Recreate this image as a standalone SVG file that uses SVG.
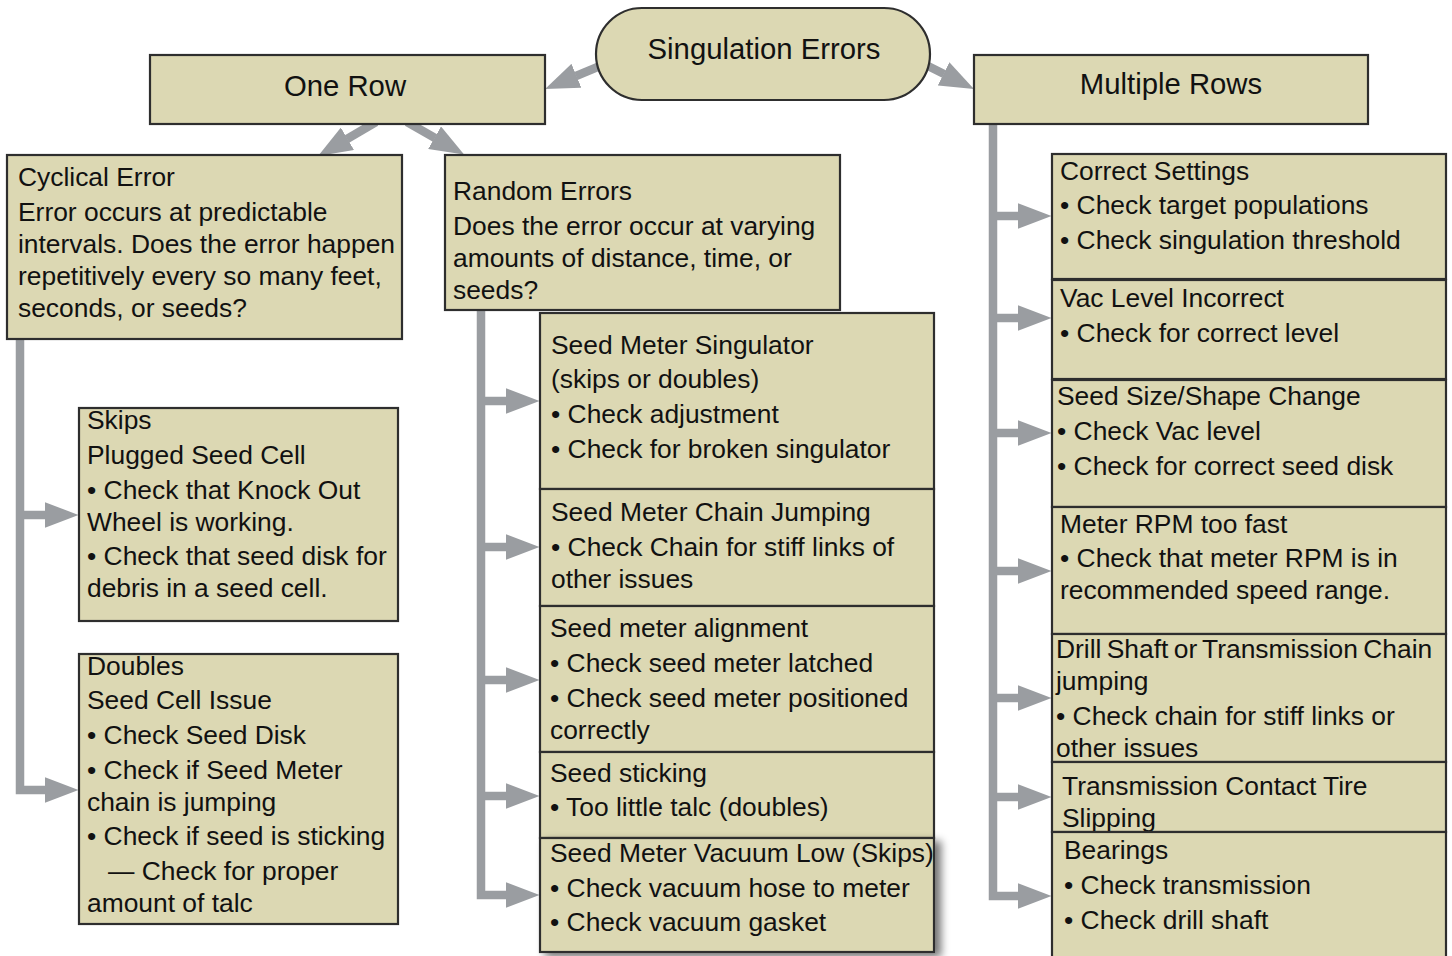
<svg xmlns="http://www.w3.org/2000/svg" width="1452" height="956" viewBox="0 0 1452 956">
<style>
  .box { fill: #dcd8b3; stroke: #2e2e2e; stroke-width: 2.2; }
  .t { font-family: "Liberation Sans", Arial, sans-serif; font-size: 26.4px; fill: #111; }
  .h { font-family: "Liberation Sans", Arial, sans-serif; font-size: 29.3px; fill: #111; text-anchor: middle; }
  .c { fill: none; stroke: #9a9da1; stroke-width: 8.5; stroke-linejoin: miter; }
</style>
<defs>
  <marker id="ah" markerUnits="userSpaceOnUse" markerWidth="34" markerHeight="26" viewBox="0 0 34 26" refX="0.5" refY="13" orient="auto">
    <path d="M0,0 L34,13 L0,26 z" fill="#9a9da1"/>
  </marker>
  <filter id="sh" x="-10%" y="-10%" width="130%" height="130%">
    <feGaussianBlur in="SourceAlpha" stdDeviation="4"/>
    <feOffset dx="6" dy="4" result="b"/>
    <feComponentTransfer><feFuncA type="linear" slope="0.55"/></feComponentTransfer>
    <feMerge><feMergeNode/><feMergeNode in="SourceGraphic"/></feMerge>
  </filter>
</defs>

<g id="connectors">
  <line class="c" x1="600" y1="66" x2="576" y2="76" marker-end="url(#ah)"/>
  <line class="c" x1="926" y1="65" x2="944" y2="74" marker-end="url(#ah)"/>
  <line class="c" x1="376" y1="122" x2="347" y2="139" marker-end="url(#ah)"/>
  <line class="c" x1="407" y1="122" x2="435" y2="138" marker-end="url(#ah)"/>
  <path class="c" d="M20,339 V790 H45" marker-end="url(#ah)"/>
  <path class="c" d="M20,515 H45" marker-end="url(#ah)"/>
  <path class="c" d="M481,310 V895 H506" marker-end="url(#ah)"/>
  <path class="c" d="M481,401 H506" marker-end="url(#ah)"/>
  <path class="c" d="M481,547 H506" marker-end="url(#ah)"/>
  <path class="c" d="M481,680 H506" marker-end="url(#ah)"/>
  <path class="c" d="M481,796 H506" marker-end="url(#ah)"/>
  <path class="c" d="M993,124 V896 H1018" marker-end="url(#ah)"/>
  <path class="c" d="M993,216 H1018" marker-end="url(#ah)"/>
  <path class="c" d="M993,318 H1018" marker-end="url(#ah)"/>
  <path class="c" d="M993,433 H1018" marker-end="url(#ah)"/>
  <path class="c" d="M993,571 H1018" marker-end="url(#ah)"/>
  <path class="c" d="M993,698 H1018" marker-end="url(#ah)"/>
  <path class="c" d="M993,797 H1018" marker-end="url(#ah)"/>
</g>

<g id="singulation-errors">
  <rect class="box" x="596" y="8" width="334" height="92" rx="46" ry="46"/>
  <text class="h" x="764" y="59">Singulation Errors</text>
</g>
<g id="one-row">
  <rect class="box" x="150" y="55" width="395" height="69"/>
  <text class="h" x="345" y="96">One Row</text>
</g>
<g id="multiple-rows">
  <rect class="box" x="974" y="55" width="394" height="69"/>
  <text class="h" x="1171" y="94">Multiple Rows</text>
</g>

<g id="cyclical-error">
  <rect class="box" x="7" y="155" width="395" height="184"/>
  <text class="t"><tspan x="18" y="186">Cyclical Error</tspan><tspan x="18" y="221">Error occurs at predictable</tspan><tspan x="18" y="253">intervals. Does the error happen</tspan><tspan x="18" y="285">repetitively every so many feet,</tspan><tspan x="18" y="317">seconds, or seeds?</tspan></text>
</g>
<g id="random-errors">
  <rect class="box" x="445" y="155" width="395" height="155"/>
  <text class="t"><tspan x="453" y="200">Random Errors</tspan><tspan x="453" y="235">Does the error occur at varying</tspan><tspan x="453" y="267">amounts of distance, time, or</tspan><tspan x="453" y="299">seeds?</tspan></text>
</g>

<g id="skips">
  <rect class="box" x="79" y="408" width="319" height="213"/>
  <text class="t"><tspan x="87" y="429">Skips</tspan><tspan x="87" y="464">Plugged Seed Cell</tspan><tspan x="87" y="499">• Check that Knock Out</tspan><tspan x="87" y="531">Wheel is working.</tspan><tspan x="87" y="565">• Check that seed disk for</tspan><tspan x="87" y="597">debris in a seed cell.</tspan></text>
</g>
<g id="doubles">
  <rect class="box" x="79" y="654" width="319" height="270"/>
  <text class="t"><tspan x="87" y="675">Doubles</tspan><tspan x="87" y="709">Seed Cell Issue</tspan><tspan x="87" y="744">• Check Seed Disk</tspan><tspan x="87" y="779">• Check if Seed Meter</tspan><tspan x="87" y="811">chain is jumping</tspan><tspan x="87" y="845">• Check if seed is sticking</tspan><tspan x="108" y="880">— Check for proper</tspan><tspan x="87" y="912">amount of talc</tspan></text>
</g>

<g id="seed-meter-singulator">
  <rect class="box" x="540" y="313" width="394" height="176"/>
  <text class="t"><tspan x="551" y="354">Seed Meter Singulator</tspan><tspan x="551" y="388">(skips or doubles)</tspan><tspan x="551" y="423">• Check adjustment</tspan><tspan x="551" y="458">• Check for broken singulator</tspan></text>
</g>
<g id="seed-meter-chain-jumping">
  <rect class="box" x="540" y="489" width="394" height="117"/>
  <text class="t"><tspan x="551" y="521">Seed Meter Chain Jumping</tspan><tspan x="551" y="556">• Check Chain for stiff links of</tspan><tspan x="551" y="588">other issues</tspan></text>
</g>
<g id="seed-meter-alignment">
  <rect class="box" x="540" y="606" width="394" height="146"/>
  <text class="t"><tspan x="550" y="637">Seed meter alignment</tspan><tspan x="550" y="672">• Check seed meter latched</tspan><tspan x="550" y="707">• Check seed meter positioned</tspan><tspan x="550" y="739">correctly</tspan></text>
</g>
<g id="seed-sticking">
  <rect class="box" x="540" y="752" width="394" height="86"/>
  <text class="t"><tspan x="550" y="782">Seed sticking</tspan><tspan x="550" y="816">• Too little talc (doubles)</tspan></text>
</g>
<g id="seed-meter-vacuum-low">
  <rect class="box" x="540" y="838" width="394" height="114" filter="url(#sh)"/>
  <text class="t"><tspan x="550" y="862">Seed Meter Vacuum Low (Skips)</tspan><tspan x="550" y="897">• Check vacuum hose to meter</tspan><tspan x="550" y="931">• Check vacuum gasket</tspan></text>
</g>

<g id="correct-settings">
  <rect class="box" x="1052" y="154" width="394" height="125"/>
  <text class="t"><tspan x="1060" y="180">Correct Settings</tspan><tspan x="1060" y="214">• Check target populations</tspan><tspan x="1060" y="249">• Check singulation threshold</tspan></text>
</g>
<g id="vac-level-incorrect">
  <rect class="box" x="1052" y="280" width="394" height="99"/>
  <text class="t"><tspan x="1060" y="307">Vac Level Incorrect</tspan><tspan x="1060" y="342">• Check for correct level</tspan></text>
</g>
<g id="seed-size-shape-change">
  <rect class="box" x="1052" y="380" width="394" height="127"/>
  <text class="t"><tspan x="1057" y="405">Seed Size/Shape Change</tspan><tspan x="1057" y="440">• Check Vac level</tspan><tspan x="1057" y="475">• Check for correct seed disk</tspan></text>
</g>
<g id="meter-rpm-too-fast">
  <rect class="box" x="1052" y="507" width="394" height="127"/>
  <text class="t"><tspan x="1060" y="533">Meter RPM too fast</tspan><tspan x="1060" y="567">• Check that meter RPM is in</tspan><tspan x="1060" y="599">recommended speed range.</tspan></text>
</g>
<g id="drill-shaft">
  <rect class="box" x="1052" y="634" width="394" height="128"/>
  <text class="t"><tspan x="1056" y="658" word-spacing="-2">Drill Shaft or Transmission Chain</tspan><tspan x="1056" y="690">jumping</tspan><tspan x="1056" y="725">• Check chain for stiff links or</tspan><tspan x="1056" y="757">other issues</tspan></text>
</g>
<g id="transmission-contact-tire">
  <rect class="box" x="1052" y="762" width="394" height="70"/>
  <text class="t"><tspan x="1062" y="795">Transmission Contact Tire</tspan><tspan x="1062" y="827">Slipping</tspan></text>
</g>
<g id="bearings">
  <rect class="box" x="1052" y="832" width="394" height="130"/>
  <text class="t"><tspan x="1064" y="859">Bearings</tspan><tspan x="1064" y="894">• Check transmission</tspan><tspan x="1064" y="929">• Check drill shaft</tspan></text>
</g>
</svg>
